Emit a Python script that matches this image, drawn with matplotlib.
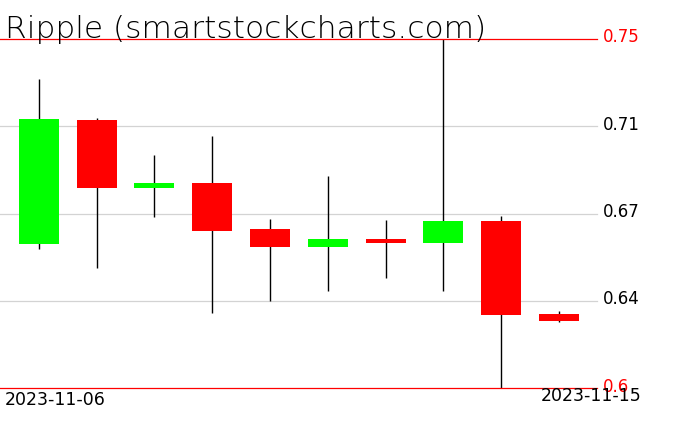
import matplotlib
matplotlib.use('Agg')
import matplotlib.pyplot as plt
import numpy as np

# 数据
dates = ['2023-11-06', '2023-11-07', '2023-11-08', '2023-11-09', '2023-11-10',
         '2023-11-11', '2023-11-12', '2023-11-13', '2023-11-14', '2023-11-15']
opens = [0.6620, 0.7152, 0.6861, 0.6883, 0.6686, 0.6609, 0.6643, 0.6626, 0.6720, 0.6321]
closes = [0.7157, 0.6862, 0.6883, 0.6677, 0.6609, 0.6643, 0.6626, 0.6720, 0.6317, 0.6290]
highs = [0.7328, 0.7161, 0.7003, 0.7084, 0.6727, 0.6912, 0.6724, 0.7600, 0.6740, 0.6333]
lows = [0.6599, 0.6518, 0.6737, 0.6323, 0.6377, 0.6418, 0.6476, 0.6418, 0.5900, 0.6285]

y_min, y_max = 0.6, 0.75
tick_vals = np.linspace(y_min, y_max, 5)
tick_labels = ['0.6', '0.64', '0.67', '0.71', '0.75']

fig = plt.figure(figsize=(6.76, 4.31), dpi=100)
ax = fig.add_axes([0, 0.0963, 597 / 676, 0.907 - 0.0963])
ax.set_xlim(-0.671, 9.657)
ax.set_ylim(y_min, y_max)
for s in ax.spines.values():
    s.set_visible(False)
ax.set_xticks([])
ax.set_yticks([])

# 水平线
for k, (v, lab) in enumerate(zip(tick_vals, tick_labels)):
    edge = k in (0, len(tick_vals) - 1)
    col = '#ff0000' if edge else '#d3d3d3'
    ax.axhline(v, color=col, lw=0.9, zorder=4 if edge else 1, clip_on=False)
    ax.text(1.01, (v - y_min) / (y_max - y_min) + 0.008, lab, transform=ax.transAxes,
            color='#ff0000' if edge else 'black', fontsize=12, va='center', ha='left',
            clip_on=False)

# 蜡烛
x = np.arange(len(dates))
w = 0.69
for i in x:
    o, c, h, l = opens[i], closes[i], highs[i], lows[i]
    col = '#00ff00' if c >= o else '#ff0000'
    ax.vlines(i, l, h, color='black', lw=1, zorder=2)
    ax.bar(i, abs(c - o), bottom=min(o, c), width=w, color=col, zorder=3, linewidth=0)

fig.text(5 / 676, 1 - 38 / 431, 'Ripple (smartstockcharts.com)', fontsize=22.5,
         fontweight='light', ha='left', va='baseline', color='black')
fig.text(5 / 676, 1 - 400 / 431, dates[0], fontsize=12.5, ha='left', va='center')
fig.text(541 / 676, 1 - 396 / 431, dates[-1], fontsize=12.5, ha='left', va='center')

fig.savefig('out.png', dpi=100)
